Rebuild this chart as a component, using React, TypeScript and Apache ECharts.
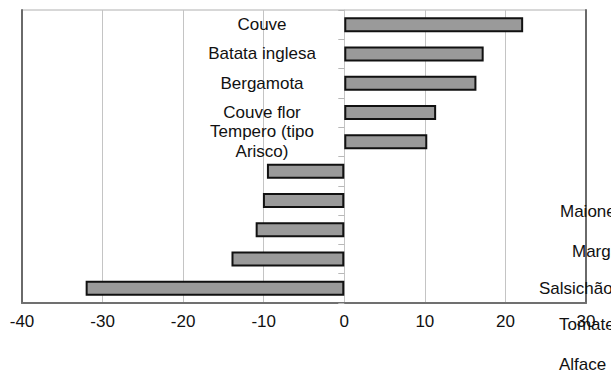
import React, { useEffect, useRef } from "react";
import * as echarts from "echarts";

const categories = [
  "Couve",
  "Batata inglesa",
  "Bergamota",
  "Couve flor",
  "Tempero (tipo\nArisco)",
  "Maionese",
  "Margarina",
  "Salsichão",
  "Tomate",
  "Alface",
];
const values = [22.2, 17.3, 16.4, 11.4, 10.3, -9.6, -10.1, -11.0, -14.0, -32.1];
const xTicks = [-40, -30, -20, -10, 0, 10, 20, 30];

// layout of the misplaced labels of the negative bars (as seen in the reference)
const negLabelPos: [number, number][] = [
  [560, 213],
  [572, 253],
  [539, 290],
  [559, 326],
  [559, 366],
];

const FONT = "'Liberation Sans', Arial, sans-serif";

export default function App() {
  const ref = useRef<HTMLDivElement>(null);
  useEffect(() => {
    const chart = echarts.init(ref.current!, undefined, { renderer: "svg" });
    const negNames = categories.filter((_, i) => values[i] < 0);
    chart.setOption({
      animation: false,
      textStyle: { fontFamily: FONT },
      grid: {
        left: 22,
        right: 25,
        top: 10,
        bottom: 71,
        show: true,
        borderColor: "#b0b0b0",
        borderWidth: 1,
        containLabel: false,
        outerBoundsMode: "none",
      },
      xAxis: {
        type: "value",
        min: xTicks[0],
        max: xTicks[xTicks.length - 1],
        interval: 10,
        axisLine: { show: true, lineStyle: { color: "#707070", width: 2 } },
        axisTick: { show: false },
        splitLine: { show: true, lineStyle: { color: "#c4c4c4", width: 1 } },
        axisLabel: { fontSize: 17, color: "#111", margin: 10, fontFamily: FONT },
      },
      yAxis: [
        {
          type: "category",
          data: categories,
          inverse: true,
          axisLine: { show: true, onZero: true, lineStyle: { color: "#c4c4c4", width: 1 } },
          axisTick: { show: true, length: 6, lineStyle: { color: "#b8b8b8" } },
          axisLabel: {
            fontSize: 17,
            color: "#111",
            align: "center",
            margin: -240,
            lineHeight: 20,
            fontFamily: FONT,
            formatter: (v: string) => {
              const i = categories.indexOf(v);
              return values[i] >= 0 ? v : "";
            },
          },
        },
        {
          type: "category",
          data: categories,
          position: "left",
          axisLine: { show: true, onZero: false, lineStyle: { color: "#6a6a6a", width: 2 } },
          axisTick: { show: false },
          axisLabel: { show: false },
        },
        {
          type: "category",
          data: categories,
          position: "right",
          axisLine: { show: true, onZero: false, lineStyle: { color: "#6a6a6a", width: 2 } },
          axisTick: { show: false },
          axisLabel: { show: false },
        },
      ],
      series: [
        {
          type: "bar",
          data: values,
          barWidth: 15,
          itemStyle: { color: "#9a9a9a", borderColor: "#111", borderWidth: 2 },
        },
      ],
      graphic: negNames.map((name, k) => ({
        type: "text",
        left: negLabelPos[k][0],
        top: negLabelPos[k][1] - 10,
        z: 100,
        style: { text: name, fill: "#111", font: `17px ${FONT}` },
      })),
    });
    return () => chart.dispose();
  }, []);
  return (
    <div
      ref={ref}
      style={{ position: "fixed", left: 0, top: 0, width: 611, height: 374, background: "#fff" }}
    />
  );
}
